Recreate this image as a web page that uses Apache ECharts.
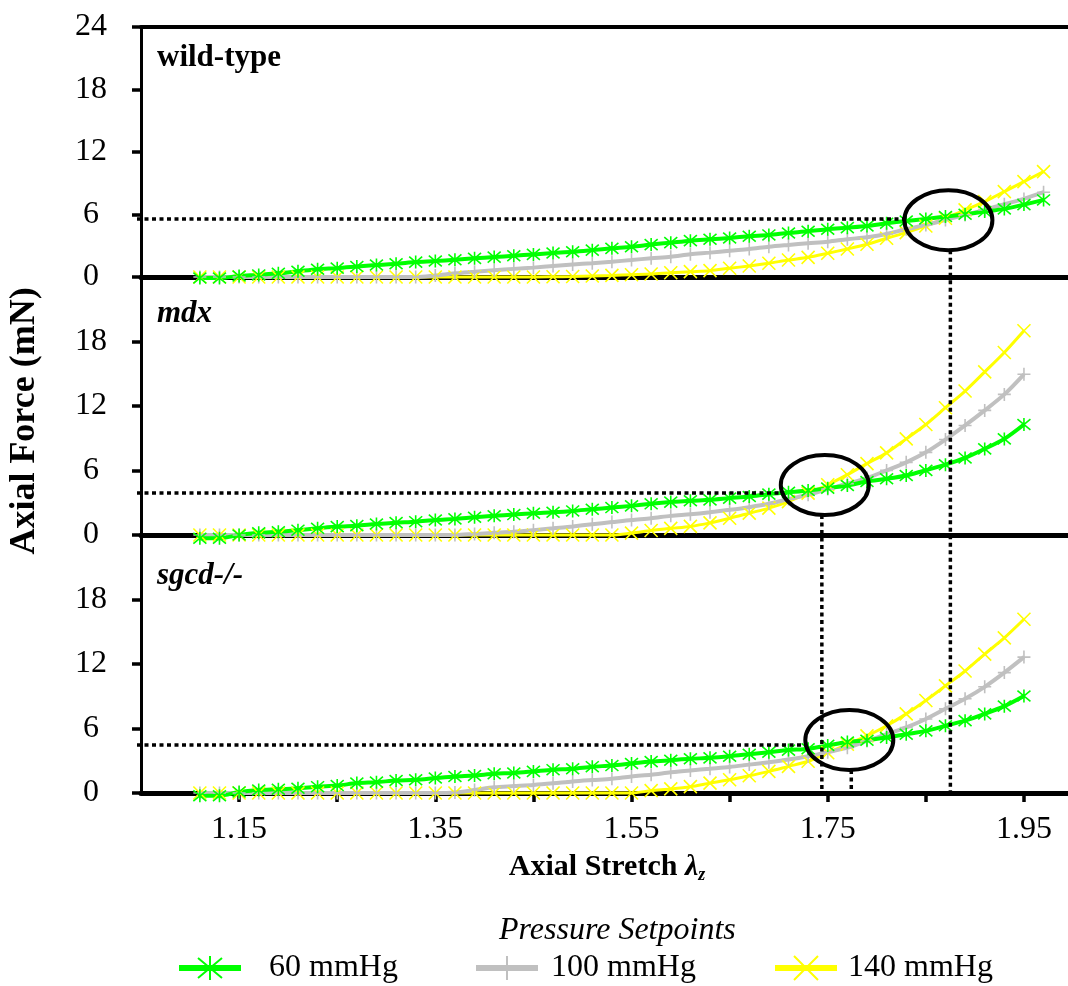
<!DOCTYPE html>
<html>
<head>
<meta charset="utf-8">
<script src="https://cdn.jsdelivr.net/npm/echarts@6/dist/echarts.min.js"></script>
<style>
  html, body { margin: 0; padding: 0; background: #fff; }
  #chart { width: 1068px; height: 986px; }
</style>
</head>
<body>
<div id="chart"></div>
<script>
// Axial stretch sample points (wild-type runs one step further)
const stretchWT = [1.11, 1.13, 1.15, 1.17, 1.19, 1.21, 1.23, 1.25, 1.27, 1.29, 1.31, 1.33, 1.35, 1.37, 1.39, 1.41, 1.43, 1.45, 1.47, 1.49, 1.51, 1.53,
                   1.55, 1.57, 1.59, 1.61, 1.63, 1.65, 1.67, 1.69, 1.71, 1.73, 1.75, 1.77, 1.79, 1.81, 1.83, 1.85, 1.87, 1.89, 1.91, 1.93, 1.95, 1.97];
const stretchKO = [1.11, 1.13, 1.15, 1.17, 1.19, 1.21, 1.23, 1.25, 1.27, 1.29, 1.31, 1.33, 1.35, 1.37, 1.39, 1.41, 1.43, 1.45, 1.47, 1.49, 1.51, 1.53,
                   1.55, 1.57, 1.59, 1.61, 1.63, 1.65, 1.67, 1.69, 1.71, 1.73, 1.75, 1.77, 1.79, 1.81, 1.83, 1.85, 1.87, 1.89, 1.91, 1.93, 1.95];

// Axial force (mN), wild-type
const wt60  = [-0.1, -0.1, 0.1, 0.2, 0.35, 0.55, 0.75, 0.85, 1.0, 1.15, 1.27, 1.43, 1.53, 1.66, 1.79, 1.91, 2.04, 2.17, 2.3, 2.42, 2.58, 2.75,
               2.91, 3.11, 3.3, 3.49, 3.62, 3.75, 3.91, 4.04, 4.23, 4.39, 4.59, 4.74, 4.9, 5.16, 5.38, 5.58, 5.8, 6.03, 6.28, 6.54, 6.95, 7.4];
const wt100 = [0, 0, 0, 0, 0, 0, 0, 0, 0, 0, 0, 0, 0.15, 0.35, 0.5, 0.65, 0.78, 0.9, 1.05, 1.2, 1.33, 1.47,
               1.63, 1.8, 1.95, 2.18, 2.34, 2.53, 2.69, 2.91, 3.08, 3.24, 3.39, 3.63, 3.82, 4.13, 4.59, 5.0, 5.48, 5.96, 6.44, 6.99, 7.5, 8.14];
const wt140 = [0, 0, 0, 0, 0, 0, 0, 0, 0, 0, 0, 0, 0, 0, 0, 0, 0, 0, 0.02, 0.05, 0.1, 0.15,
               0.22, 0.29, 0.41, 0.51, 0.61, 0.84, 1.06, 1.32, 1.63, 1.89, 2.28, 2.69, 3.14, 3.72, 4.26, 4.9, 5.64, 6.44, 7.24, 8.2, 9.16, 10.12];

// Axial force (mN), mdx
const mdx60  = [-0.3, -0.3, 0.0, 0.2, 0.3, 0.45, 0.62, 0.78, 0.87, 1.03, 1.15, 1.24, 1.4, 1.5, 1.65, 1.78, 1.9, 2.03, 2.12, 2.24, 2.4, 2.55,
                2.71, 2.9, 3.06, 3.18, 3.27, 3.43, 3.58, 3.8, 3.97, 4.14, 4.36, 4.61, 4.98, 5.23, 5.54, 6.01, 6.54, 7.17, 8.01, 8.94, 10.28];
const mdx100 = [0, 0, 0, 0, 0, 0, 0, 0, 0, 0, 0, 0, 0, 0, 0.1, 0.2, 0.3, 0.45, 0.62, 0.8, 1.0, 1.2,
                1.4, 1.56, 1.78, 1.93, 2.12, 2.34, 2.59, 2.9, 3.34, 3.74, 4.27, 4.77, 5.3, 6.01, 6.76, 7.69, 8.88, 10.19, 11.59, 13.08, 14.95];
const mdx140 = [0, 0, 0, 0, 0, 0, 0, 0, 0, 0, 0, 0, 0, 0, 0, 0, 0, 0, 0, 0, 0, 0,
                0.18, 0.42, 0.62, 0.8, 1.13, 1.56, 2.03, 2.5, 3.11, 3.9, 4.67, 5.61, 6.64, 7.64, 8.94, 10.28, 11.84, 13.39, 15.17, 16.98, 19.0];

// Axial force (mN), sgcd-/-
const sg60  = [-0.25, -0.25, 0.1, 0.28, 0.35, 0.44, 0.59, 0.69, 0.92, 1.01, 1.16, 1.23, 1.39, 1.54, 1.63, 1.79, 1.86, 2.01, 2.17, 2.26, 2.45, 2.55,
               2.74, 2.92, 3.05, 3.18, 3.27, 3.42, 3.61, 3.8, 3.99, 4.12, 4.43, 4.75, 4.91, 5.16, 5.47, 5.78, 6.25, 6.73, 7.36, 8.08, 9.03];
const sg100 = [0, 0, 0, 0, 0, 0, 0, 0, 0, 0, 0, 0, 0, 0.05, 0.28, 0.53, 0.64, 0.75, 0.9, 1.07, 1.2, 1.32,
               1.54, 1.7, 1.92, 2.1, 2.26, 2.42, 2.64, 2.86, 3.11, 3.42, 3.8, 4.22, 4.84, 5.47, 6.1, 6.89, 7.83, 8.77, 9.88, 11.2, 12.64];
const sg140 = [0, 0, 0, 0, 0, 0, 0, 0, 0, 0, 0, 0, 0, 0, 0, 0, 0, 0, 0, 0, 0, 0, 0,
               0.22, 0.38, 0.59, 0.92, 1.23, 1.6, 2.01, 2.48, 2.95, 3.74, 4.53, 5.31, 6.25, 7.36, 8.61, 9.97, 11.35, 12.92, 14.43, 16.16];

// Panel names and legend entries
const panelNames = ['wild-type', 'mdx', 'sgcd-/-'];
const pressures = ['60 mmHg', '100 mmHg', '140 mmHg'];

// Tick values
const forceTicksTop = [0, 6, 12, 18, 24];
const forceTicks = [0, 6, 12, 18];
const stretchTicks = [1.15, 1.25, 1.35, 1.45, 1.55, 1.65, 1.75, 1.85, 1.95];
const stretchLabels = [1.15, 1.35, 1.55, 1.75, 1.95];

// Crossover annotations per panel: guide level, ring centre, drop line
const guideForce = [5.57, 3.91, 4.47];
const ringStretch = [1.873, 1.747, 1.772];
const ringForce = [5.45, 4.65, 4.93];
const dropStretch = [1.875, 1.744, 1.774];

const SERIF = "'Liberation Serif', 'Times New Roman', serif";
const colorOf = { '60 mmHg': '#00ff00', '100 mmHg': '#c0c0c0', '140 mmHg': '#ffff00' };
const symbolOf = {
  '60 mmHg': 'path://M0,0L10,10M10,0L0,10M5,-1L5,11',
  '100 mmHg': 'path://M5,0L5,10M0,5L10,5',
  '140 mmHg': 'path://M0,0L10,10M10,0L0,10'
};
const widthOf = { '60 mmHg': 4, '100 mmHg': 4, '140 mmHg': 3 };

const panels = [
  { stretch: stretchWT, force: { '60 mmHg': wt60, '100 mmHg': wt100, '140 mmHg': wt140 } },
  { stretch: stretchKO, force: { '60 mmHg': mdx60, '100 mmHg': mdx100, '140 mmHg': mdx140 } },
  { stretch: stretchKO, force: { '60 mmHg': sg60, '100 mmHg': sg100, '140 mmHg': sg140 } }
];

const series = [];
panels.forEach((p, i) => {
  ['140 mmHg', '100 mmHg', '60 mmHg'].forEach(name => {
    const c = colorOf[name];
    series.push({
      type: 'line',
      name: name,
      xAxisIndex: i,
      yAxisIndex: i,
      data: p.stretch.map((x, k) => [x, p.force[name][k]]),
      smooth: 0.3,
      clip: false,
      symbol: symbolOf[name],
      symbolSize: 13,
      lineStyle: { color: c, width: widthOf[name] },
      itemStyle: { color: c, borderColor: c, borderWidth: 1.6 },
      emphasis: { disabled: true },
      animation: false
    });
  });
});

const grids = [
  { left: 141, top: 27, width: 932, height: 250, outerBoundsMode: 'none' },
  { left: 141, top: 277, width: 932, height: 258, outerBoundsMode: 'none' },
  { left: 141, top: 535, width: 932, height: 258, outerBoundsMode: 'none' }
];

const xBase = { type: 'value', min: 1.05, max: 2.0, splitLine: { show: false }, z: 3 };
const xAxes = [0, 1, 2].map(i => Object.assign({}, xBase, {
  gridIndex: i,
  position: 'bottom',
  axisLine: { onZero: false, lineStyle: { color: '#000', width: 5 } },
  axisTick: i === 2
    ? { show: true, length: 9, customValues: stretchTicks, lineStyle: { color: '#000', width: 3.5 } }
    : { show: false },
  axisLabel: i === 2
    ? { show: true, customValues: stretchLabels, formatter: v => Number(v).toFixed(2),
        fontFamily: SERIF, fontSize: 32, color: '#000', margin: 21 }
    : { show: false }
}));
xAxes[2].name = '{a|Axial Stretch }{l|λ}{s|z}';
xAxes[2].nameLocation = 'middle';
xAxes[2].nameGap = 57;
xAxes[2].nameTextStyle = {
  rich: {
    a: { fontFamily: SERIF, fontSize: 30, fontWeight: 'bold', color: '#000' },
    l: { fontFamily: SERIF, fontSize: 30, fontWeight: 'bold', fontStyle: 'italic', color: '#000' },
    s: { fontFamily: SERIF, fontSize: 18, fontWeight: 'bold', fontStyle: 'italic', color: '#000',
         verticalAlign: 'top', padding: [16, 0, 0, 0] }
  }
};
// top frame line of the first panel
xAxes.push(Object.assign({}, xBase, {
  gridIndex: 0,
  position: 'top',
  axisLine: { onZero: false, lineStyle: { color: '#000', width: 4 } },
  axisTick: { show: false },
  axisLabel: { show: false }
}));

const yAxes = [0, 1, 2].map(i => ({
  gridIndex: i,
  type: 'value',
  min: 0,
  max: 24,
  interval: 6,
  z: 3,
  splitLine: { show: false },
  axisLine: { show: true, lineStyle: { color: '#000', width: 3 } },
  axisTick: { show: true, length: 9, customValues: i === 0 ? forceTicksTop : forceTicks,
              lineStyle: { color: '#000', width: 3.5 } },
  axisLabel: { customValues: i === 0 ? forceTicksTop : forceTicks, align: 'center', margin: 50,
               fontFamily: SERIF, fontSize: 32, color: '#000' }
}));

// one legend block per pressure so each entry sits at its own column
const legendLeft = [171, 468, 767];
const legendTextGap = [23, 8, 6];
const legends = pressures.map((name, i) => ({
  data: [name],
  left: legendLeft[i],
  top: 947,
  itemWidth: 62,
  itemHeight: 30,
  selectedMode: false,
  lineStyle: { width: 6 },
  textStyle: { fontFamily: SERIF, fontSize: 32, color: '#000', padding: [0, 0, 0, legendTextGap[i]] }
}));

const chart = echarts.init(document.getElementById('chart'), null, { renderer: 'canvas' });

chart.setOption({
  backgroundColor: '#fff',
  animation: false,
  grid: grids,
  xAxis: xAxes,
  yAxis: yAxes,
  series: series,
  title: {
    text: 'Pressure Setpoints',
    left: 494,
    top: 910,
    textStyle: { fontFamily: SERIF, fontStyle: 'italic', fontWeight: 'normal', fontSize: 32, color: '#000' }
  },
  legend: legends
});

// Overlay: axis title, panel names, crossover rings and dotted guide lines
const labelY = [58, 314, 576];
const graphics = [{
  type: 'text', x: 25, y: 421, rotation: Math.PI / 2, z: 10,
  style: { text: 'Axial Force (mN)', fontFamily: SERIF, fontSize: 36, fontWeight: 'bold',
           fill: '#000', align: 'center', verticalAlign: 'middle' }
}];
panelNames.forEach((name, i) => {
  graphics.push({
    type: 'text', x: 157, y: labelY[i], z: 10,
    style: { text: name, fontFamily: SERIF, fontSize: 31, fontWeight: 'bold',
             fontStyle: i === 0 ? 'normal' : 'italic', fill: '#000', verticalAlign: 'middle' }
  });
});

const RX = 44, RY = 30;
const dotted = { stroke: '#000', lineWidth: 3.5, lineDash: [4, 3.5] };
const bottomY = chart.convertToPixel({ gridIndex: 2 }, [1.05, 0])[1];
for (let i = 0; i < 3; i++) {
  const ring = chart.convertToPixel({ gridIndex: i }, [ringStretch[i], ringForce[i]]);
  const guide = chart.convertToPixel({ gridIndex: i }, [1.05, guideForce[i]]);
  const drop = chart.convertToPixel({ gridIndex: i }, [dropStretch[i], 0]);
  graphics.push({
    type: 'line', z: 10, silent: true,
    shape: { x1: guide[0] - 4, y1: guide[1], x2: ring[0] - RX, y2: guide[1] },
    style: dotted
  });
  graphics.push({
    type: 'line', z: 10, silent: true,
    shape: { x1: drop[0], y1: ring[1] + RY, x2: drop[0], y2: bottomY },
    style: dotted
  });
  graphics.push({
    type: 'ellipse', z: 11, silent: true,
    shape: { cx: ring[0], cy: ring[1], rx: RX, ry: RY },
    style: { fill: 'transparent', stroke: '#000', lineWidth: 4 }
  });
}
chart.setOption({ graphic: graphics });
</script>
</body>
</html>
